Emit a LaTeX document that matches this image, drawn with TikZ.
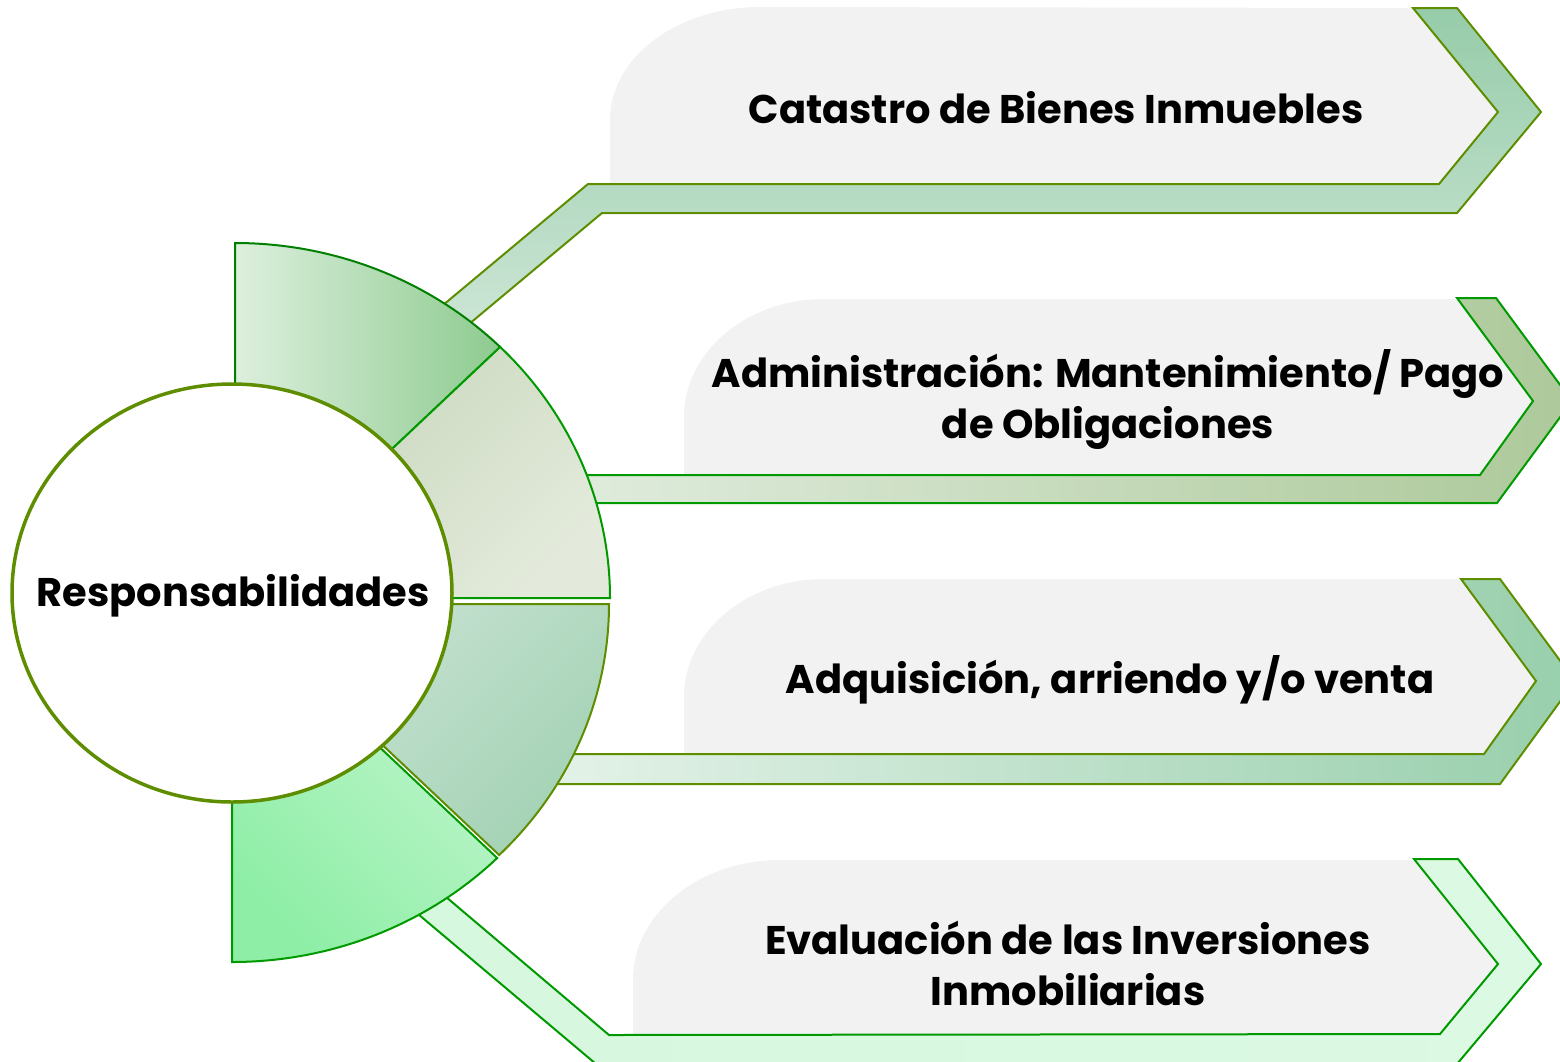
\documentclass[tikz,border=0pt]{standalone}
\usepackage{fontspec}
\setmainfont{Poppins}
\usetikzlibrary{calc}
\definecolor{olivegreen}{HTML}{5E8E00}
\definecolor{leafgreen}{HTML}{009A00}
\definecolor{darkleaf}{HTML}{008000}
\definecolor{tabgrey}{HTML}{F2F2F2}
% one ring segment: centre, start and end angle
\newcommand{\ringseg}[4]{(#1,#2) ++(#3:375 and 355) arc[start angle=#3,end angle=#4,x radius=375,y radius=355] -- ($(#1,#2)+(#4:200 and 190)$) arc[start angle=#4,end angle=#3,x radius=200,y radius=190] -- cycle}
\begin{document}
\begin{tikzpicture}[x=1pt,y=-1pt,
    label/.style={font=\fontsize{40}{51}\selectfont\bfseries,align=center,inner sep=0pt},
    band/.style={line width=2pt,line join=miter},
    segA/.style={line width=2pt,draw=darkleaf,left color=ringA1,right color=ringA2},
    segB/.style={line width=2pt,draw=leafgreen,top color=ringB1,bottom color=ringB2,shading angle=45},
    segC/.style={line width=2pt,draw=olivegreen,top color=ringC1,bottom color=ringC2,shading angle=45},
    segD/.style={line width=2pt,draw=leafgreen,top color=ringD1,bottom color=ringD2,shading angle=-45}]
    \definecolor{ringA1}{HTML}{DDEFDD}\definecolor{ringA2}{HTML}{8ECB90}
    \definecolor{ringB1}{HTML}{C6D6BA}\definecolor{ringB2}{HTML}{E3EADB}
    \definecolor{ringC1}{HTML}{CCE5D6}\definecolor{ringC2}{HTML}{A4D2B5}
    \definecolor{ringD1}{HTML}{C4F6D0}\definecolor{ringD2}{HTML}{8EEEA6}
    \useasboundingbox (0,0) rectangle (1560,1061);
    \clip (0,0) rectangle (1560,1061);
    % grey tabs
    \fill[tabgrey] (610,184) -- (610,120) arc[start angle=180,end angle=270,x radius=150,y radius=113] -- (1413,8) -- (1498,112) -- (1439,184) -- cycle;
    \fill[tabgrey] (684,475) -- (684,417) arc[start angle=180,end angle=270,x radius=140,y radius=118] -- (1457,299) -- (1533,401) -- (1480,475) -- cycle;
    \fill[tabgrey] (684,754) -- (684,697) arc[start angle=180,end angle=270,x radius=140,y radius=118] -- (1461,579) -- (1536,681) -- (1484,754) -- cycle;
    \fill[tabgrey] (633,1034) -- (633,980) arc[start angle=180,end angle=270,x radius=147,y radius=120] -- (1414,860) -- (1498,964) -- (1440,1034) -- cycle;
    % bands with chevrons
    \draw[band,draw=olivegreen,top color={rgb,255:red,150;green,204;blue,169},bottom color={rgb,255:red,210;green,232;blue,218}]
        (400,341) -- (588,184) -- (1439,184) -- (1498,112) -- (1413,8) -- (1457,8) -- (1541,112) -- (1457,213) -- (602,213) -- (420,365) -- cycle;
    \draw[band,draw=leafgreen,left color={rgb,255:red,224;green,236;blue,222},right color={rgb,255:red,173;green,201;blue,154}]
        (560,475) -- (1480,475) -- (1533,401) -- (1457,298) -- (1496,298) -- (1572,401) -- (1497,503) -- (560,503) -- cycle;
    \draw[band,draw=olivegreen,left color={rgb,255:red,230;green,243;blue,234},right color={rgb,255:red,152;green,207;blue,172}]
        (520,754) -- (1484,754) -- (1536,681) -- (1461,579) -- (1500,579) -- (1575,681) -- (1500,784) -- (520,784) -- cycle;
    \draw[band,draw=leafgreen,left color={rgb,255:red,214;green,248;blue,222},middle color={rgb,255:red,148;green,238;blue,172},right color={rgb,255:red,220;green,249;blue,227}]
        (400,858) -- (609,1035) -- (1440,1034) -- (1498,964) -- (1414,859) -- (1458,859) -- (1541,964) -- (1457,1064) -- (596,1064) -- (380,882) -- cycle;
    % ring
    \draw[segA] \ringseg{235}{598}{-90}{-45};
    \draw[segB] \ringseg{235}{598}{-45}{0};
    \draw[segC] \ringseg{234}{604}{0}{45};
    \draw[segD] \ringseg{232}{607}{45}{90};
    \draw[draw=olivegreen,line width=3.5pt,fill=white] (232,593) ellipse[x radius=220,y radius=209];
    \node[label] (resp) at (233,596) {Responsabilidades};
    \node[label] (catastro) at (1056,108) {Catastro de Bienes Inmuebles};
    \node[label] (admin) at (1108,399) {Administración: Mantenimiento/ Pago\\de Obligaciones};
    \node[label] (adquis) at (1110,680) {Adquisición, arriendo y/o venta};
    \node[label] (evalua) at (1068,963) {Evaluación de las Inversiones\\Inmobiliarias};
\end{tikzpicture}
\end{document}
